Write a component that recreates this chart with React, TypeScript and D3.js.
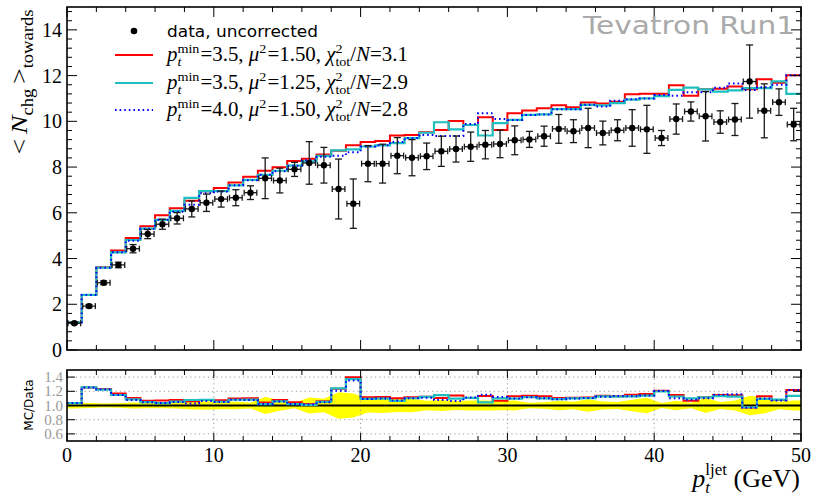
import React from "react";
import * as d3 from "d3";

// ---- data (bins 0..50 GeV, width 1 GeV) ----
const binEdges = d3.range(0, 51, 1);
const dataVals = [1.17,1.92,2.94,3.72,4.43,5.07,5.5,5.76,6.17,6.44,6.6,6.66,6.88,7.51,7.41,7.9,8.18,8.08,7.04,6.4,8.15,8.15,8.5,8.41,8.47,8.69,8.79,8.89,8.98,9.01,9.17,9.21,9.35,9.67,9.57,9.71,9.49,9.61,9.71,9.65,9.27,10.1,10.43,10.22,9.97,10.08,11.74,10.46,10.84,9.86];
const dataErrs = [0.05,0.07,0.08,0.12,0.18,0.2,0.22,0.25,0.35,0.38,0.35,0.35,0.3,0.89,0.54,0.31,0.93,0.78,1.31,1.08,0.79,0.85,0.79,0.79,0.58,0.66,0.57,0.64,0.62,0.6,0.63,0.35,0.44,0.63,0.5,0.86,0.52,0.46,0.8,1.05,0.33,0.66,0.42,1.08,0.49,0.7,1.6,1.18,0.58,0.71];
const mcRed = [1.21,2.41,3.62,4.35,4.9,5.41,5.89,6.2,6.53,6.94,7.09,7.32,7.58,7.84,7.99,8.27,8.36,8.55,8.71,8.95,9.1,9.14,9.38,9.4,9.52,9.62,10.02,9.84,10.18,9.62,10.35,10.47,10.57,10.7,10.62,10.82,10.78,10.86,11.18,11.21,11.21,11.58,11.12,11.4,11.43,11.52,11.4,11.84,11.69,12.02];
const mcCyan = [1.21,2.41,3.6,4.27,4.81,5.31,5.69,6.08,6.65,6.95,6.95,7.2,7.44,7.66,7.84,8.06,8.25,8.49,8.73,8.77,8.9,8.95,9.05,9.27,9.5,9.96,9.65,9.84,9.38,9.92,10.06,10.28,10.3,10.53,10.53,10.72,10.7,10.8,10.95,11.0,11.1,11.38,11.47,11.4,11.3,11.35,11.45,11.45,11.75,11.2];
const mcBlue = [1.21,2.41,3.6,4.27,4.78,5.3,5.7,6.05,6.35,6.85,6.93,7.2,7.42,7.66,7.82,8.06,8.3,8.45,8.5,8.65,8.9,8.95,9.1,9.27,9.4,9.36,9.36,9.88,10.35,10.1,10.06,10.28,10.3,10.53,10.53,10.72,10.65,10.9,10.97,11.0,11.15,11.12,11.27,11.27,11.47,11.66,11.37,11.49,11.6,12.02];

const legendPt = ["3.5", "3.5", "4.0"];
const legendMu = ["1.50", "1.25", "1.50"];
const legendChi = ["3.1", "2.9", "2.8"];

const xTicksLabels = [0, 10, 20, 30, 40, 50];
const yTickLabels = [0, 2, 4, 6, 8, 10, 12, 14];
const rTickLabels = [0.6, 0.8, 1.0, 1.2, 1.4];

const SERIF = "'Liberation Serif', 'Times New Roman', serif";
const SANS = "'DejaVu Sans', sans-serif";

const RED = "#ff0000";
const CYAN = "#20bfbf";
const BLUE = "#0000ff";

const x = d3.scaleLinear().domain([0, 50]).range([67, 801]);
const y = d3.scaleLinear().domain([0, 15]).range([350, 7]);
const yr = d3.scaleLinear().domain([0.5, 1.5]).range([441, 370]);

function stepPath(vals: number[], ys: (v: number) => number) {
  const pts: [number, number][] = vals.map((v, i) => [binEdges[i], v]);
  pts.push([binEdges[vals.length], vals[vals.length - 1]]);
  return d3.line<[number, number]>().x(d => x(d[0])).y(d => ys(d[1])).curve(d3.curveStepAfter)(pts) || "";
}

const series = [
  { vals: mcRed, color: RED, width: 2, dash: undefined as string | undefined },
  { vals: mcCyan, color: CYAN, width: 2.2, dash: undefined as string | undefined },
  { vals: mcBlue, color: BLUE, width: 2, dash: "1.6,3" },
];

function MathLabel({ xx, yy, pt, mu, chi }: { xx: number; yy: number; pt: string; mu: string; chi: string }) {
  const fs = 20, ss = 13.5;
  return (
    <text x={xx} y={yy} fontFamily={SERIF} fontSize={fs} style={{ whiteSpace: "pre" }} fill="#000"
      textLength={241} lengthAdjust="spacingAndGlyphs">
      <tspan fontStyle="italic">p</tspan>
      <tspan fontSize={ss} fontStyle="italic" dy={5}>t</tspan>
      <tspan fontSize={ss} dx={-3.8} dy={-13}>min</tspan>
      <tspan dy={8} dx={1}>{`=${pt}, `}</tspan>
      <tspan fontStyle="italic">μ</tspan>
      <tspan fontSize={ss} dy={-8}>2</tspan>
      <tspan dy={8} dx={1}>{`=${mu}, `}</tspan>
      <tspan fontStyle="italic">χ</tspan>
      <tspan fontSize={ss} dy={-8}>2</tspan>
      <tspan fontSize={ss} dx={-6.8} dy={13}>tot</tspan>
      <tspan dy={-5}>/</tspan>
      <tspan fontStyle="italic">N</tspan>
      <tspan>{`=${chi}`}</tspan>
    </text>
  );
}

export default function App() {
  const xMinor = d3.range(0, 50.001, 2);
  const yMinor = d3.range(0, 15.001, 0.4);
  const isMajorY = (t: number) => Math.abs(t / 2 - Math.round(t / 2)) < 1e-6;

  const band = d3
    .area<[number, number, number]>()
    .x(d => x(d[0]))
    .y0(d => yr(1 - d[2]))
    .y1(d => yr(1 + d[2]));
  const bandPts: [number, number, number][] = dataVals.map((v, i) => [i + 0.5, v, dataErrs[i] / v]);
  bandPts.unshift([0, dataVals[0], dataErrs[0] / dataVals[0]]);
  bandPts.push([50, dataVals[49], dataErrs[49] / dataVals[49]]);

  const legendRows = [55, 83, 110];

  return (
    <svg width={815} height={496} style={{ position: "absolute", left: 0, top: 0, background: "#fff" }}>
      <defs>
        <clipPath id="mainClip"><rect x={67} y={7} width={734} height={343} /></clipPath>
        <clipPath id="ratioClip"><rect x={67} y={370} width={734} height={71} /></clipPath>
      </defs>

      {/* ===== main panel ===== */}
      <g clipPath="url(#mainClip)">
        {series.map((s, k) => (
          <path key={k} d={stepPath(s.vals, y)} fill="none" stroke={s.color} strokeWidth={s.width}
            strokeDasharray={s.dash} />
        ))}
        {dataVals.map((v, i) => {
          const cx = x(i + 0.5);
          const e = dataErrs[i];
          const x0 = x(i) + 1, x1 = x(i + 1) - 1;
          const yt = y(v + e), yb = y(v - e);
          return (
            <g key={i} stroke="#1a1a1a" strokeWidth={1.3}>
              <line x1={x0} x2={x1} y1={y(v)} y2={y(v)} />
              <line x1={x0} x2={x0} y1={y(v) - 3} y2={y(v) + 3} />
              <line x1={x1} x2={x1} y1={y(v) - 3} y2={y(v) + 3} />
              <line x1={cx} x2={cx} y1={yt} y2={yb} />
              <line x1={cx - 3.5} x2={cx + 3.5} y1={yt} y2={yt} />
              <line x1={cx - 3.5} x2={cx + 3.5} y1={yb} y2={yb} />
              <circle cx={cx} cy={y(v)} r={3.2} fill="#000" stroke="none" />
            </g>
          );
        })}
      </g>

      {/* main ticks */}
      <g stroke="#000" strokeWidth={1}>
        {xMinor.map(t => {
          const len = t % 10 === 0 ? 10 : 5;
          return (
            <g key={t}>
              <line x1={x(t)} x2={x(t)} y1={350} y2={350 - len} />
              <line x1={x(t)} x2={x(t)} y1={7} y2={7 + len} />
            </g>
          );
        })}
        {yMinor.map(t => {
          const len = isMajorY(t) ? 10 : 5;
          return (
            <g key={t}>
              <line x1={67} x2={67 + len} y1={y(t)} y2={y(t)} />
              <line x1={801} x2={801 - len} y1={y(t)} y2={y(t)} />
            </g>
          );
        })}
      </g>
      {yTickLabels.map(t => (
        <text key={t} x={62} y={y(t) + 7} textAnchor="end" fontFamily={SERIF} fontSize={20}>{t}</text>
      ))}
      <rect x={67} y={7} width={734} height={343} fill="none" stroke="#000" strokeWidth={1.6} />

      {/* Title */}
      <text x={583} y={34} fontFamily={SANS} fontSize={24} fill="#aaaaaa" textLength={212}
        lengthAdjust="spacingAndGlyphs">Tevatron Run1</text>

      {/* Legend */}
      <circle cx={134} cy={31} r={3.3} fill="#000" />
      <text x={167} y={37} fontFamily={SANS} fontSize={16.5} textLength={151} lengthAdjust="spacingAndGlyphs">data, uncorrected</text>
      {series.map((s, k) => (
        <g key={k}>
          <line x1={115} x2={153} y1={legendRows[k]} y2={legendRows[k]} stroke={s.color} strokeWidth={s.width}
            strokeDasharray={s.dash} />
          <MathLabel xx={167} yy={legendRows[k] + 6} pt={legendPt[k]} mu={legendMu[k]} chi={legendChi[k]} />
        </g>
      ))}

      {/* Y label */}
      <text transform="translate(27,82) rotate(-90)" textAnchor="middle" fontFamily={SERIF} fontSize={24}
        style={{ whiteSpace: "pre" }} textLength={145} lengthAdjust="spacingAndGlyphs">
        <tspan>&lt;</tspan>
        <tspan fontStyle="italic" dx={4}>N</tspan>
        <tspan fontSize={16} dy={6}>chg</tspan>
        <tspan dy={-6} dx={4}>&gt;</tspan>
        <tspan fontSize={16} dy={6}>towards</tspan>
      </text>

      {/* ===== ratio panel ===== */}
      <g clipPath="url(#ratioClip)">
        <path d={band(bandPts) || ""} fill="#ffff00" stroke="none" />
        {rTickLabels.filter(t => Math.abs(t - 1) > 1e-6).map(t => (
          <line key={t} x1={67} x2={801} y1={yr(t)} y2={yr(t)} stroke="#999" strokeWidth={1} strokeDasharray="1.2,3.2" />
        ))}
        {[10, 20, 30, 40].map(t => (
          <line key={t} x1={x(t)} x2={x(t)} y1={370} y2={441} stroke="#999" strokeWidth={1} strokeDasharray="1.2,3.2" />
        ))}
        <line x1={67} x2={801} y1={yr(1)} y2={yr(1)} stroke="#000" strokeWidth={2} />
        {series.map((s, k) => (
          <path key={k} d={stepPath(s.vals.map((v, i) => v / dataVals[i]), yr)} fill="none" stroke={s.color}
            strokeWidth={s.width} strokeDasharray={s.dash} />
        ))}
      </g>
      <g stroke="#000" strokeWidth={1}>
        {xMinor.map(t => {
          const len = t % 10 === 0 ? 8 : 5;
          return (
            <g key={t}>
              <line x1={x(t)} x2={x(t)} y1={441} y2={441 - len} />
              <line x1={x(t)} x2={x(t)} y1={370} y2={370 + len} />
            </g>
          );
        })}
        {rTickLabels.map(t => (
          <g key={t}>
            <line x1={67} x2={75} y1={yr(t)} y2={yr(t)} />
            <line x1={801} x2={793} y1={yr(t)} y2={yr(t)} />
          </g>
        ))}
      </g>
      {rTickLabels.map(t => (
        <text key={t} x={63} y={yr(t) + 5} textAnchor="end" fontFamily={SERIF} fontSize={15} fill="#999">
          {t.toFixed(1)}
        </text>
      ))}
      <rect x={67} y={370} width={734} height={71} fill="none" stroke="#000" strokeWidth={1.6} />
      <text transform="translate(33,405) rotate(-90)" textAnchor="middle" fontFamily={SANS} fontSize={12}>MC/Data</text>

      {xTicksLabels.map(t => (
        <text key={t} x={x(t)} y={462} textAnchor="middle" fontFamily={SERIF} fontSize={20}>{t}</text>
      ))}

      {/* X label */}
      <text x={800} y={487} textAnchor="end" fontFamily={SERIF} fontSize={26} style={{ whiteSpace: "pre" }}>
        <tspan fontStyle="italic">p</tspan>
        <tspan fontSize={17} fontStyle="italic" dy={6}>t</tspan>
        <tspan fontSize={17} dx={-4.5} dy={-18}>ljet</tspan>
        <tspan dy={12}> (GeV)</tspan>
      </text>
    </svg>
  );
}
